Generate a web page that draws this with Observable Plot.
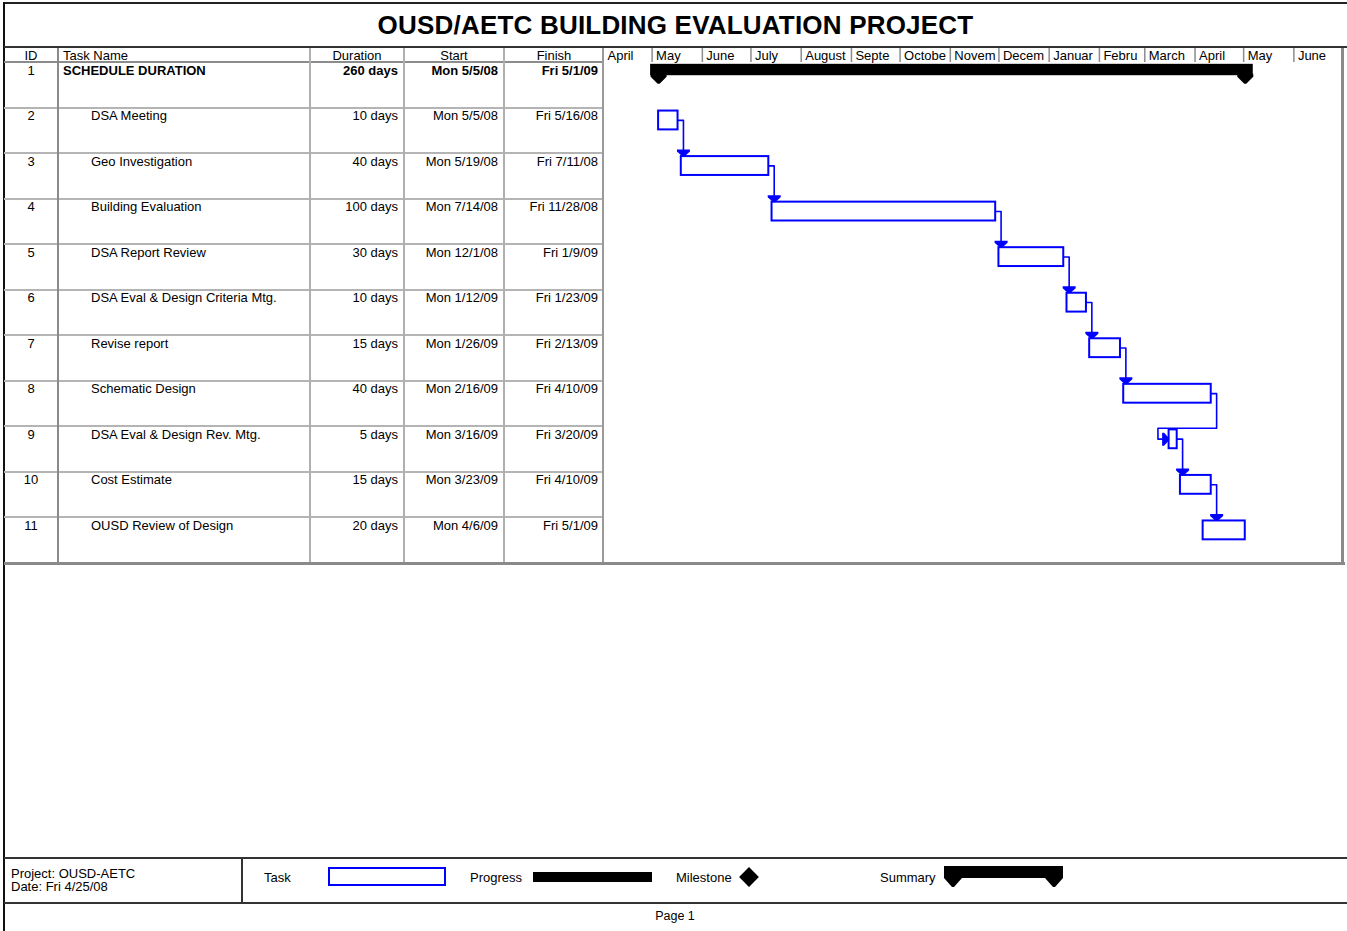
<!DOCTYPE html>
<html><head><meta charset="utf-8">
<script src="https://cdn.jsdelivr.net/npm/d3@7"></script>
<script src="https://cdn.jsdelivr.net/npm/@observablehq/plot@0.6"></script>
<style>
html,body{margin:0;padding:0;background:#fff;}
#page{position:relative;width:1347px;height:931px;overflow:hidden;font-family:"Liberation Sans",Arial,sans-serif;font-size:13px;color:#000;background:#fff;}
.t{position:absolute;white-space:nowrap;line-height:15px;}
.l{position:absolute;}
</style></head><body><div id="page"></div>
<script>
// ---------------- data ----------------
const ids = ["1","2","3","4","5","6","7","8","9","10","11"];
const taskNames = ["SCHEDULE DURATION","DSA Meeting","Geo Investigation","Building Evaluation","DSA Report Review","DSA Eval & Design Criteria Mtg.","Revise report","Schematic Design","DSA Eval & Design Rev. Mtg.","Cost Estimate","OUSD Review of Design"];
const durations = ["260 days","10 days","40 days","100 days","30 days","10 days","15 days","40 days","5 days","15 days","20 days"];
const startLabels = ["Mon 5/5/08","Mon 5/5/08","Mon 5/19/08","Mon 7/14/08","Mon 12/1/08","Mon 1/12/09","Mon 1/26/09","Mon 2/16/09","Mon 3/16/09","Mon 3/23/09","Mon 4/6/09"];
const finishLabels = ["Fri 5/1/09","Fri 5/16/08","Fri 7/11/08","Fri 11/28/08","Fri 1/9/09","Fri 1/23/09","Fri 2/13/09","Fri 4/10/09","Fri 3/20/09","Fri 4/10/09","Fri 5/1/09"];
const startDates = ["2008-05-05","2008-05-05","2008-05-19","2008-07-14","2008-12-01","2009-01-12","2009-01-26","2009-02-16","2009-03-16","2009-03-23","2009-04-06"];
const finishDates = ["2009-05-01","2008-05-16","2008-07-11","2008-11-28","2009-01-09","2009-01-23","2009-02-13","2009-04-10","2009-03-20","2009-04-10","2009-05-01"];
const predecessors = [null,null,2,3,4,5,6,7,8,9,10];
const isSummary = [true,false,false,false,false,false,false,false,false,false,false];
const monthLabels = ["April","May","June","July","August","Septe","Octobe","Novem","Decem","Januar","Febru","March","April","May","June"];
const timelineStart = "2008-04-01", timelineEnd = "2009-07-01";
const titleText = "OUSD/AETC BUILDING EVALUATION PROJECT";
const headerLabels = ["ID","Task Name","Duration","Start","Finish"];
const projectInfo = ["Project: OUSD-AETC","Date: Fri 4/25/08"];
const legendLabels = ["Task","Progress","Milestone","Summary"];
const pageLabel = "Page 1";

// ---------------- layout ----------------
const page = document.getElementById("page");
function box(l,t,w,h,bg){const d=document.createElement("div");d.className="l";Object.assign(d.style,{left:l+"px",top:t+"px",width:w+"px",height:h+"px",background:bg});page.appendChild(d);return d;}
function txt(s,x,t,o={}){const d=document.createElement("div");d.className="t";d.textContent=s;d.style.top=t+"px";
  if(o.align==="right"){d.style.right=(1347-x)+"px";}
  else if(o.align==="center"){d.style.left=x+"px";d.style.transform="translateX(-50%)";}
  else d.style.left=x+"px";
  if(o.bold)d.style.fontWeight="bold"; if(o.size)d.style.fontSize=o.size+"px"; if(o.lh)d.style.lineHeight=o.lh+"px";
  page.appendChild(d);return d;}

const TOP = 48, BOTTOM = 563, HEADER_PX = 14;
const SVG_H = BOTTOM - TOP;
const ROW_PX = (SVG_H - HEADER_PX) / ids.length;
const GX = 603, GW = 739;

// title
const tt = document.createElement("div");
Object.assign(tt.style,{position:"absolute",left:"4px",top:"4px",width:"1343px",height:"42px",lineHeight:"42px",textAlign:"center",fontWeight:"bold",fontSize:"26px",letterSpacing:"0.2px"});
tt.textContent = titleText; page.appendChild(tt);

// table text
const colID = 31, colName = 63, colNameIndent = 91, colDur = 398, colStart = 498, colFin = 598;
txt(headerLabels[0], colID, TOP, {align:"center"});
txt(headerLabels[1], colName, TOP);
txt(headerLabels[2], 357, TOP, {align:"center"});
txt(headerLabels[3], 454, TOP, {align:"center"});
txt(headerLabels[4], 554, TOP, {align:"center"});
ids.forEach((id,i)=>{
  const top = TOP + HEADER_PX + i*ROW_PX + 0.5;
  const b = isSummary[i];
  txt(id, colID, top, {align:"center"});
  txt(taskNames[i], b ? colName : colNameIndent, top, {bold:b});
  txt(durations[i], colDur, top, {align:"right", bold:b});
  txt(startLabels[i], colStart, top, {align:"right", bold:b});
  txt(finishLabels[i], colFin, top, {align:"right", bold:b});
});

// grid lines
box(3,2,1344,2,"#222");            // outer top
box(3,2,2,929,"#111");             // outer left
box(4,46,1343,2,"#333");           // title bottom
box(4,TOP+HEADER_PX-1,GX-4,1.5,"#8c8c8c");
for(let i=1;i<ids.length;i++) box(4, Math.round(TOP+HEADER_PX+i*ROW_PX)-1, GX-4, 2, "#b4b4b4");
[[57,"#8a8a8a"],[309,"#b0b0b0"],[403,"#b0b0b0"],[503,"#b0b0b0"],[602,"#9a9a9a"]].forEach(([x,c])=>box(x,TOP,2,BOTTOM-TOP,c));
box(4,562,1341,3,"#8a8a8a");       // table bottom
box(1341,TOP,3,517,"#8a8a8a");     // gantt right
// footer
box(4,857,1343,2,"#333");
box(4,902,1343,2,"#333");
box(241,858,2,45,"#333");
txt(projectInfo[0],11,867,{lh:13});
txt(projectInfo[1],11,880,{lh:13});
txt(legendLabels[0],264,870);
const ts = box(328,867,118,19,"#fff"); ts.style.border="2px solid #0000ff"; ts.style.boxSizing="border-box";
txt(legendLabels[1],470,870);
box(533,872,119,10,"#000");
txt(legendLabels[2],676,870);
const dm = box(742,870,14,14,"#000"); dm.style.transform="rotate(45deg)";
txt(legendLabels[3],880,870);
const ss = document.createElementNS("http://www.w3.org/2000/svg","svg");
ss.setAttribute("width","122");ss.setAttribute("height","24");
Object.assign(ss.style,{position:"absolute",left:"943px",top:"866px"});
ss.innerHTML='<path d="M1,0 H120 V12 L112,21 H110 L102,12 H19 L11,21 H9 L1,12 Z" fill="#000"/>';
page.appendChild(ss);
txt(pageLabel,675,909,{align:"center",size:12.5});

// ---------------- gantt (Plot) ----------------
const parse = d3.utcParse("%Y-%m-%d");
const tasks = ids.map((id,i)=>({row:i, start:parse(startDates[i]), end:d3.utcDay.offset(parse(finishDates[i]),1), pred:predecessors[i], summary:isSummary[i]}));
const summaryTasks = tasks.filter(d=>d.summary);
const workTasks = tasks.filter(d=>!d.summary);
const x0 = parse(timelineStart), x1 = parse(timelineEnd);
const monthStarts = d3.utcMonth.range(x0, x1);
const hdr = HEADER_PX / ROW_PX;

const BAR_TOP = 0.066, BAR_BOT = 0.48, BAR_MID = 0.27;
const SUM_TOP = 0.04, SUM_BOT = 0.29;
const links = [], downArrows = [], rightArrows = [];
workTasks.forEach(s=>{
  if(!s.pred) return;
  const p = tasks[s.pred-1];
  const xv = d3.utcHour.offset(p.end, 80);
  const yMid = p.row + BAR_MID, id = s.row;
  if (xv >= s.start && xv <= s.end) {
    links.push({id,x:p.end,y:yMid},{id,x:xv,y:yMid},{id,x:xv,y:s.row+BAR_TOP});
    downArrows.push({x:xv,y:s.row+BAR_TOP});
  } else {
    const xl = d3.utcHour.offset(s.start,-165), yT = s.row+0.03, sMid = s.row+BAR_MID;
    links.push({id,x:p.end,y:yMid},{id,x:xv,y:yMid},{id,x:xv,y:yT},{id,x:xl,y:yT},{id,x:xl,y:sMid},{id,x:s.start,y:sMid});
    rightArrows.push({x:s.start,y:sMid});
  }
});
const capSymbol = {draw(c){c.moveTo(-8,-2);c.lineTo(8,-2);c.lineTo(8,1);c.lineTo(1,8);c.lineTo(-1,8);c.lineTo(-8,1);c.closePath();}};
const arrowDown = {draw(c){c.moveTo(-6.5,-7);c.lineTo(6.5,-7);c.lineTo(6.5,-5);c.lineTo(1,0);c.lineTo(-1,0);c.lineTo(-6.5,-5);c.closePath();}};
const arrowRight = {draw(c){c.moveTo(-7,-6.5);c.lineTo(-5,-6.5);c.lineTo(0,-1);c.lineTo(0,1);c.lineTo(-5,6.5);c.lineTo(-7,6.5);c.closePath();}};

const chart = Plot.plot({
  width: GW, height: SVG_H, margin: 0,
  style: {background:"transparent", fontFamily:"'Liberation Sans', Arial, sans-serif", fontSize:"13px", overflow:"visible", color:"#000"},
  x: {type:"utc", domain:[x0,x1], range:[0,GW], axis:null},
  y: {type:"linear", domain:[-hdr, ids.length], range:[0,SVG_H], axis:null},
  marks: [
    Plot.ruleX(monthStarts.slice(1), {x:d=>d, y1:-hdr, y2:0, stroke:"#8c8c8c", strokeWidth:1.5}),
    Plot.text(monthStarts, {x:d=>d, y:-hdr/2, text:(d,i)=>monthLabels[i], textAnchor:"start", dx:4, fill:"#000"}),
    Plot.rect(summaryTasks, {x1:"start", x2:"end", y1:d=>d.row+SUM_TOP, y2:d=>d.row+SUM_BOT, fill:"#000", insetLeft:-8, insetRight:-8}),
    Plot.dot(summaryTasks.flatMap(d=>[{x:d.start,y:d.row+SUM_BOT},{x:d.end,y:d.row+SUM_BOT}]), {x:"x", y:"y", symbol:capSymbol, fill:"#000", stroke:"none"}),
    Plot.line(links, {x:"x", y:"y", z:"id", stroke:"#0000ff", strokeWidth:1.6}),
    Plot.rect(workTasks, {x1:"start", x2:"end", y1:d=>d.row+BAR_TOP, y2:d=>d.row+BAR_BOT, fill:"#fff", stroke:"#0000ff", strokeWidth:2}),
    Plot.dot(downArrows, {x:"x", y:"y", symbol:arrowDown, fill:"#0000ff", stroke:"none"}),
    Plot.dot(rightArrows, {x:"x", y:"y", symbol:arrowRight, fill:"#0000ff", stroke:"none"})
  ]
});
Object.assign(chart.style,{position:"absolute", left:GX+"px", top:TOP+"px"});
page.appendChild(chart);
</script></body></html>
